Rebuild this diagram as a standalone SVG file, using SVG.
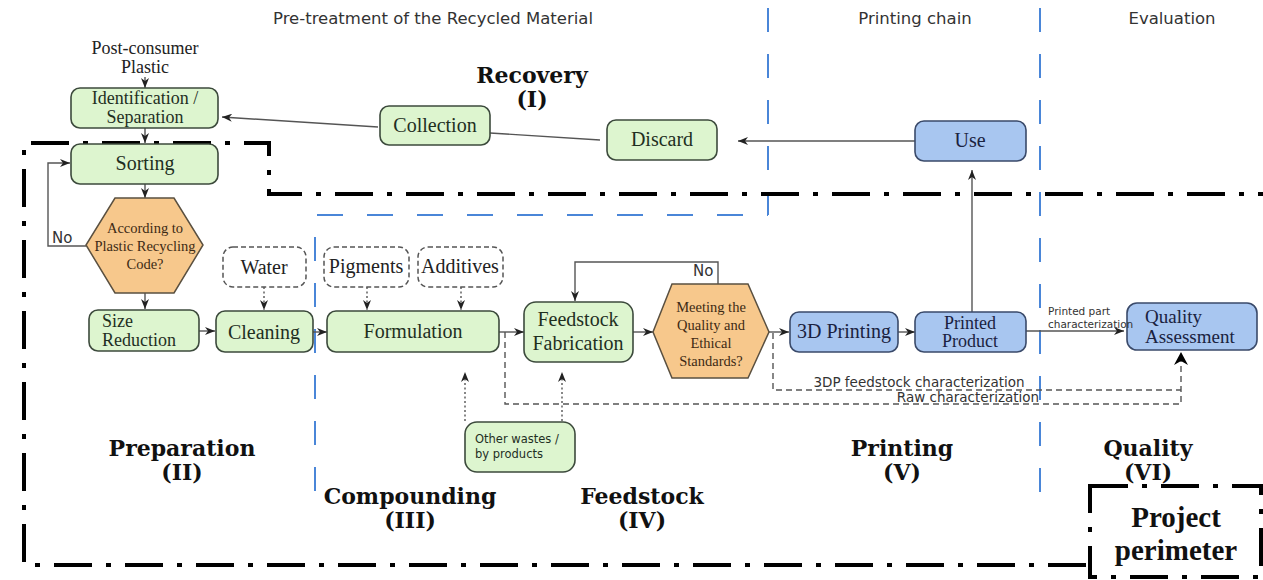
<svg xmlns="http://www.w3.org/2000/svg" width="1263" height="580" viewBox="0 0 1263 580">
<style>
.hdr{font-family:"DejaVu Sans",sans-serif;font-size:16.5px;fill:#333;text-anchor:middle}
.g rect{fill:#ddf5cf;stroke:#3c4a3c;stroke-width:1.6}
.b rect{fill:#a8c6f0;stroke:#3a4a6a;stroke-width:1.6}
.hex polygon{fill:#f7c88c;stroke:#5a5040;stroke-width:1.5}
.dn rect{fill:#fff;stroke:#555;stroke-width:1.5;stroke-dasharray:5 3}
.t{font-family:"Liberation Serif",serif;font-size:20px;text-anchor:middle}
.t2{font-family:"Liberation Serif",serif;font-size:18px;text-anchor:middle}
.g text{fill:#1f2f1f}
.b text{fill:#1a2240}
.dn text{fill:#222}
.ht{font-family:"Liberation Serif",serif;font-size:14.5px;text-anchor:middle;fill:#3d2a14}
.sec{font-family:"DejaVu Serif",serif;font-weight:bold;font-size:22px;text-anchor:middle;fill:#111}
.sm{font-family:"DejaVu Sans",sans-serif;fill:#333}
.c{fill:none;stroke:#555;stroke-width:1.4}
.dash{stroke-dasharray:6 4}
.dot{stroke-dasharray:2 2.5}
.blue{fill:none;stroke:#4a86d8;stroke-width:2}
.perim{fill:none;stroke:#000;stroke-width:4;stroke-dasharray:38 14 5 14}
</style>
<defs>
<marker id="a" markerUnits="userSpaceOnUse" markerWidth="11" markerHeight="8" refX="10" refY="4" orient="auto">
<path d="M0,0 L10,4 L0,8 L3,4 z" fill="#222"/>
</marker>
<marker id="A" markerUnits="userSpaceOnUse" markerWidth="14" markerHeight="14" refX="13" refY="7" orient="auto">
<path d="M0,0 L13,7 L0,14 L4,7 z" fill="#000"/>
</marker>
</defs>

<g id="headers">
<text class="hdr" x="433" y="24">Pre-treatment of the Recycled Material</text>
<text class="hdr" x="915" y="24">Printing chain</text>
<text class="hdr" x="1172" y="24">Evaluation</text>
</g>

<g id="dividers">
<path class="blue" d="M768,8 V215" stroke-dasharray="24 22"/>
<path class="blue" d="M317,215 H768" stroke-dasharray="26 24"/>
<path class="blue" d="M315,237 V495" stroke-dasharray="24 22"/>
<path class="blue" d="M1040,8 V495" stroke-dasharray="24 22"/>
</g>

<g id="perimeter">
<path class="perim" d="M1086,565 H24 V143 H269 V194 H1263"/>
<rect class="perim" x="1090" y="486" width="171" height="91" style="fill:#fff"/>
<text x="1176" y="527" font-family="Liberation Serif,serif" font-weight="bold" font-size="29" text-anchor="middle" fill="#111">Project</text>
<text x="1176" y="560" font-family="Liberation Serif,serif" font-weight="bold" font-size="29" text-anchor="middle" fill="#111">perimeter</text>
</g>

<g id="sections">
<text class="sec" x="532" y="83">Recovery</text><text class="sec" x="532" y="107">(I)</text>
<text class="sec" x="182" y="456">Preparation</text><text class="sec" x="182" y="480">(II)</text>
<text class="sec" x="410" y="504">Compounding</text><text class="sec" x="410" y="528">(III)</text>
<text class="sec" x="642" y="504">Feedstock</text><text class="sec" x="642" y="528">(IV)</text>
<text class="sec" x="902" y="456">Printing</text><text class="sec" x="902" y="480">(V)</text>
<text class="sec" x="1148" y="456">Quality</text><text class="sec" x="1148" y="480">(VI)</text>
</g>

<g id="connectors">
<path class="c" d="M145,77 V88" marker-end="url(#a)"/>
<path class="c" d="M145,128 V143" marker-end="url(#a)"/>
<path class="c" d="M145,184 V198" marker-end="url(#a)"/>
<path class="c" d="M86,246 H48 V163 H70" marker-end="url(#a)" stroke="#888"/>
<path class="c" d="M145,292 V309" marker-end="url(#a)"/>
<path class="c" d="M199,331 H215" marker-end="url(#a)"/>
<path class="c dot" d="M264,287 V310" marker-end="url(#a)"/>
<path class="c" d="M313,332 H327" marker-end="url(#a)"/>
<path class="c dot" d="M367,287 V310" marker-end="url(#a)"/>
<path class="c dot" d="M461,287 V310" marker-end="url(#a)"/>
<path class="c" d="M499,332 H524" marker-end="url(#a)"/>
<path class="c" d="M633,332 H653" marker-end="url(#a)"/>
<path class="c" d="M718,284 V262 H575 V301" marker-end="url(#a)"/>
<path class="c" d="M769,332 H789" marker-end="url(#a)"/>
<path class="c" d="M898,332 H915" marker-end="url(#a)"/>
<path class="c" d="M972,312 V170" marker-end="url(#a)"/>
<path class="c" d="M915,141 H738" marker-end="url(#a)"/>
<path class="c" d="M490,133 L600,140"/>
<path class="c" d="M378,127 L222,117" marker-end="url(#a)"/>
<path class="c" d="M1026,331 H1124" marker-end="url(#a)"/>
<path class="c dash" d="M773,333 V390 H1181"/>
<path class="c dash" d="M505,332 V404 H1181 V352" marker-end="url(#A)"/>
<path class="c dot" d="M465,421 V372" marker-end="url(#a)"/>
<path class="c dot" d="M562,421 V372" marker-end="url(#a)"/>
</g>

<g id="post-consumer">
<text class="t2" x="145" y="54" fill="#222">Post-consumer</text>
<text class="t2" x="145" y="73" fill="#222">Plastic</text>
</g>
<g id="identification" class="g">
<rect x="71" y="88" width="147" height="40" rx="9"/>
<text class="t2" x="145" y="104">Identification /</text>
<text class="t2" x="145" y="123">Separation</text>
</g>
<g id="sorting" class="g">
<rect x="71" y="144" width="147" height="40" rx="9"/>
<text class="t" x="145" y="170">Sorting</text>
</g>
<g id="recycling-code" class="hex">
<polygon points="115,198 174,198 203,245 174,293 115,293 86,245"/>
<text class="ht" x="145" y="233">According to</text>
<text class="ht" x="145" y="251">Plastic Recycling</text>
<text class="ht" x="145" y="269">Code?</text>
</g>
<g id="size-reduction" class="g">
<rect x="89" y="310" width="110" height="41" rx="9"/>
<text class="t2" x="102" y="327" style="text-anchor:start">Size</text>
<text class="t2" x="102" y="346" style="text-anchor:start">Reduction</text>
</g>
<g id="water" class="dn">
<rect x="223" y="247" width="83" height="40" rx="10"/>
<text class="t" x="264" y="274">Water</text>
</g>
<g id="cleaning" class="g">
<rect x="216" y="311" width="97" height="41" rx="9"/>
<text class="t" x="264" y="339">Cleaning</text>
</g>
<g id="pigments" class="dn">
<rect x="324" y="247" width="85" height="40" rx="10"/>
<text class="t" x="366" y="273">Pigments</text>
</g>
<g id="additives" class="dn">
<rect x="418" y="247" width="85" height="40" rx="10"/>
<text class="t" x="460" y="273">Additives</text>
</g>
<g id="formulation" class="g">
<rect x="327" y="311" width="172" height="41" rx="9"/>
<text class="t" x="413" y="338">Formulation</text>
</g>
<g id="feedstock-fabrication" class="g">
<rect x="524" y="302" width="109" height="60" rx="12"/>
<text class="t" x="578" y="326">Feedstock</text>
<text class="t" x="578" y="350">Fabrication</text>
</g>
<g id="quality-standards" class="hex">
<polygon points="672,284 748,284 769,332 748,378 672,378 653,332"/>
<text class="ht" x="711" y="312">Meeting the</text>
<text class="ht" x="711" y="330">Quality and</text>
<text class="ht" x="711" y="348">Ethical</text>
<text class="ht" x="711" y="366">Standards?</text>
</g>
<g id="printing-3d" class="b">
<rect x="790" y="312" width="108" height="40" rx="9"/>
<text class="t" x="844" y="338">3D Printing</text>
</g>
<g id="printed-product" class="b">
<rect x="915" y="312" width="111" height="40" rx="9"/>
<text class="t2" x="970" y="329">Printed</text>
<text class="t2" x="970" y="347">Product</text>
</g>
<g id="use" class="b">
<rect x="915" y="121" width="111" height="40" rx="9"/>
<text class="t" x="970" y="147">Use</text>
</g>
<g id="discard" class="g">
<rect x="607" y="120" width="110" height="40" rx="9"/>
<text class="t" x="662" y="146">Discard</text>
</g>
<g id="collection" class="g">
<rect x="380" y="106" width="110" height="39" rx="9"/>
<text class="t" x="435" y="132">Collection</text>
</g>
<g id="quality-assessment" class="b">
<rect x="1127" y="303" width="130" height="47" rx="10"/>
<text class="t2" x="1145" y="323" style="text-anchor:start;font-size:19px">Quality</text>
<text class="t2" x="1145" y="343" style="text-anchor:start;font-size:19px">Assessment</text>
</g>
<g id="other-wastes" class="g">
<rect x="465" y="422" width="110" height="50" rx="12"/>
<text class="sm" x="475" y="443" font-size="11.5" style="fill:#1f2f1f">Other wastes /</text>
<text class="sm" x="475" y="458" font-size="11.5" style="fill:#1f2f1f">by products</text>
</g>

<g id="connector-labels">
<text class="sm" x="52" y="243" font-size="15">No</text>
<text class="sm" x="693" y="276" font-size="15">No</text>
<text class="sm" x="1048" y="315" font-size="10.5">Printed part</text>
<text class="sm" x="1048" y="328" font-size="10.5">characterization</text>
<text class="sm" x="919" y="387" font-size="13.5" text-anchor="middle">3DP feedstock characterization</text>
<text class="sm" x="968" y="402" font-size="13.5" text-anchor="middle">Raw characterization</text>
</g>
</svg>
